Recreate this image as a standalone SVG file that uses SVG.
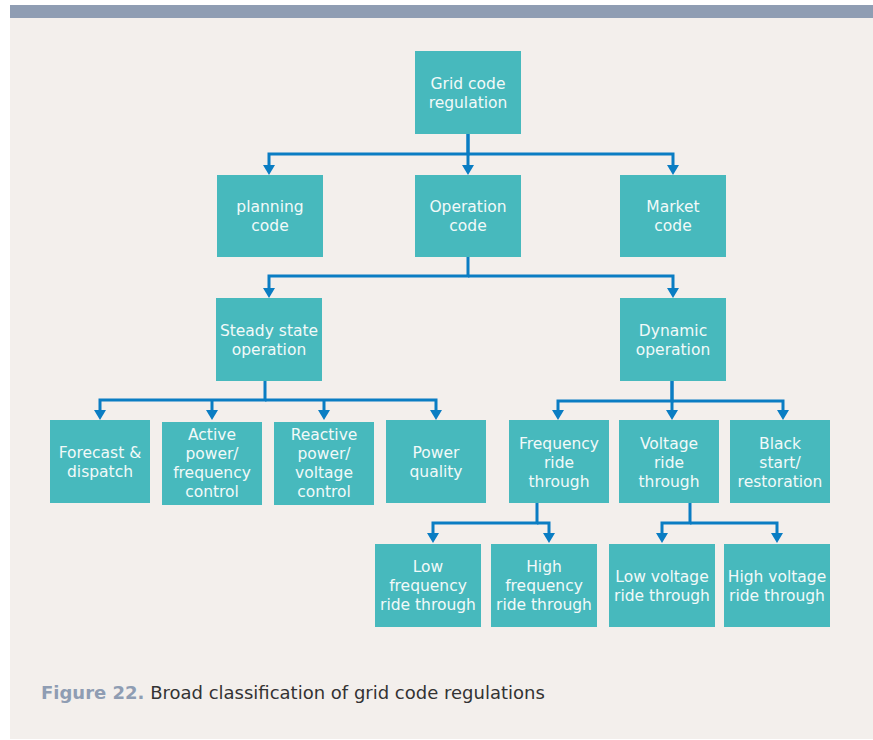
<svg xmlns="http://www.w3.org/2000/svg" width="873" height="740" viewBox="0 0 873 740">
<defs>
<style>
.box{fill:#47b9bd}
.t{font-family:"DejaVu Sans","Open Sans",sans-serif;font-size:15.5px;fill:#f2f9f9;text-anchor:middle}
.c{fill:none;stroke:#0a7dc3;stroke-width:3;stroke-linejoin:miter}
.cap{font-family:"DejaVu Sans","Open Sans",sans-serif;font-size:18px;fill:#333333}
</style>
<marker id="ah" viewBox="0 0 10 12" markerWidth="10" markerHeight="12" refX="0" refY="6" orient="auto" markerUnits="userSpaceOnUse">
<path d="M0,0 L10,6 L0,12 z" fill="#0a7dc3"/>
</marker>
</defs>
<rect x="0" y="0" width="873" height="740" fill="#ffffff"/>
<rect x="10" y="18" width="863" height="721" fill="#f3efec"/>
<rect x="10" y="5" width="863" height="13" fill="#8f9db3"/>

<g id="connectors">
<path class="c" marker-end="url(#ah)" d="M468,134 V154 H269 V165"/>
<path class="c" marker-end="url(#ah)" d="M468,154 H673 V165"/>
<path class="c" marker-end="url(#ah)" d="M468,134 V165"/>
<path class="c" marker-end="url(#ah)" d="M468,257 V276 H269 V288"/>
<path class="c" marker-end="url(#ah)" d="M468,276 H673 V288"/>
<path class="c" marker-end="url(#ah)" d="M265,381 V400 H100 V410"/>
<path class="c" marker-end="url(#ah)" d="M265,400 H436 V410"/>
<path class="c" marker-end="url(#ah)" d="M212,400 V410"/>
<path class="c" marker-end="url(#ah)" d="M324,400 V410"/>
<path class="c" marker-end="url(#ah)" d="M672,381 V401 H558 V410"/>
<path class="c" marker-end="url(#ah)" d="M672,401 H783 V410"/>
<path class="c" marker-end="url(#ah)" d="M672,381 V410"/>
<path class="c" marker-end="url(#ah)" d="M537,503 V523 H433 V533"/>
<path class="c" marker-end="url(#ah)" d="M537,523 H549 V533"/>
<path class="c" marker-end="url(#ah)" d="M690,503 V523 H662 V533"/>
<path class="c" marker-end="url(#ah)" d="M690,523 H777 V533"/>
</g>

<g id="root"><rect class="box" x="415" y="51" width="106" height="83"/>
<text class="t" x="468" y="89">Grid code</text><text class="t" x="468" y="108">regulation</text></g>

<g id="planning"><rect class="box" x="217" y="175" width="106" height="82"/>
<text class="t" x="270" y="212">planning</text><text class="t" x="270" y="231">code</text></g>
<g id="operation"><rect class="box" x="415" y="175" width="106" height="82"/>
<text class="t" x="468" y="212">Operation</text><text class="t" x="468" y="231">code</text></g>
<g id="market"><rect class="box" x="620" y="175" width="106" height="82"/>
<text class="t" x="673" y="212">Market</text><text class="t" x="673" y="231">code</text></g>

<g id="steady"><rect class="box" x="216" y="298" width="106" height="83"/>
<text class="t" x="269" y="336">Steady state</text><text class="t" x="269" y="355">operation</text></g>
<g id="dynamic"><rect class="box" x="620" y="298" width="106" height="83"/>
<text class="t" x="673" y="336">Dynamic</text><text class="t" x="673" y="355">operation</text></g>

<g id="forecast"><rect class="box" x="50" y="420" width="100" height="83"/>
<text class="t" x="100" y="458">Forecast &amp;</text><text class="t" x="100" y="477">dispatch</text></g>
<g id="active"><rect class="box" x="162" y="422" width="100" height="83"/>
<text class="t" x="212" y="440">Active</text><text class="t" x="212" y="459">power/</text><text class="t" x="212" y="478">frequency</text><text class="t" x="212" y="497">control</text></g>
<g id="reactive"><rect class="box" x="274" y="422" width="100" height="83"/>
<text class="t" x="324" y="440">Reactive</text><text class="t" x="324" y="459">power/</text><text class="t" x="324" y="478">voltage</text><text class="t" x="324" y="497">control</text></g>
<g id="powerquality"><rect class="box" x="386" y="420" width="100" height="83"/>
<text class="t" x="436" y="458">Power</text><text class="t" x="436" y="477">quality</text></g>

<g id="frequency"><rect class="box" x="509" y="420" width="100" height="83"/>
<text class="t" x="559" y="449">Frequency</text><text class="t" x="559" y="468">ride</text><text class="t" x="559" y="487">through</text></g>
<g id="voltage"><rect class="box" x="619" y="420" width="100" height="83"/>
<text class="t" x="669" y="449">Voltage</text><text class="t" x="669" y="468">ride</text><text class="t" x="669" y="487">through</text></g>
<g id="blackstart"><rect class="box" x="730" y="420" width="100" height="83"/>
<text class="t" x="780" y="449">Black</text><text class="t" x="780" y="468">start/</text><text class="t" x="780" y="487">restoration</text></g>

<g id="lowfreq"><rect class="box" x="375" y="544" width="106" height="83"/>
<text class="t" x="428" y="572">Low</text><text class="t" x="428" y="591">frequency</text><text class="t" x="428" y="610">ride through</text></g>
<g id="highfreq"><rect class="box" x="491" y="544" width="106" height="83"/>
<text class="t" x="544" y="572">High</text><text class="t" x="544" y="591">frequency</text><text class="t" x="544" y="610">ride through</text></g>
<g id="lowvolt"><rect class="box" x="609" y="544" width="106" height="83"/>
<text class="t" x="662" y="582">Low voltage</text><text class="t" x="662" y="601">ride through</text></g>
<g id="highvolt"><rect class="box" x="724" y="544" width="106" height="83"/>
<text class="t" x="777" y="582">High voltage</text><text class="t" x="777" y="601">ride through</text></g>

<text class="cap" x="41" y="699"><tspan font-weight="bold" fill="#8f9db3">Figure 22.</tspan> Broad classification of grid code regulations</text>
</svg>
